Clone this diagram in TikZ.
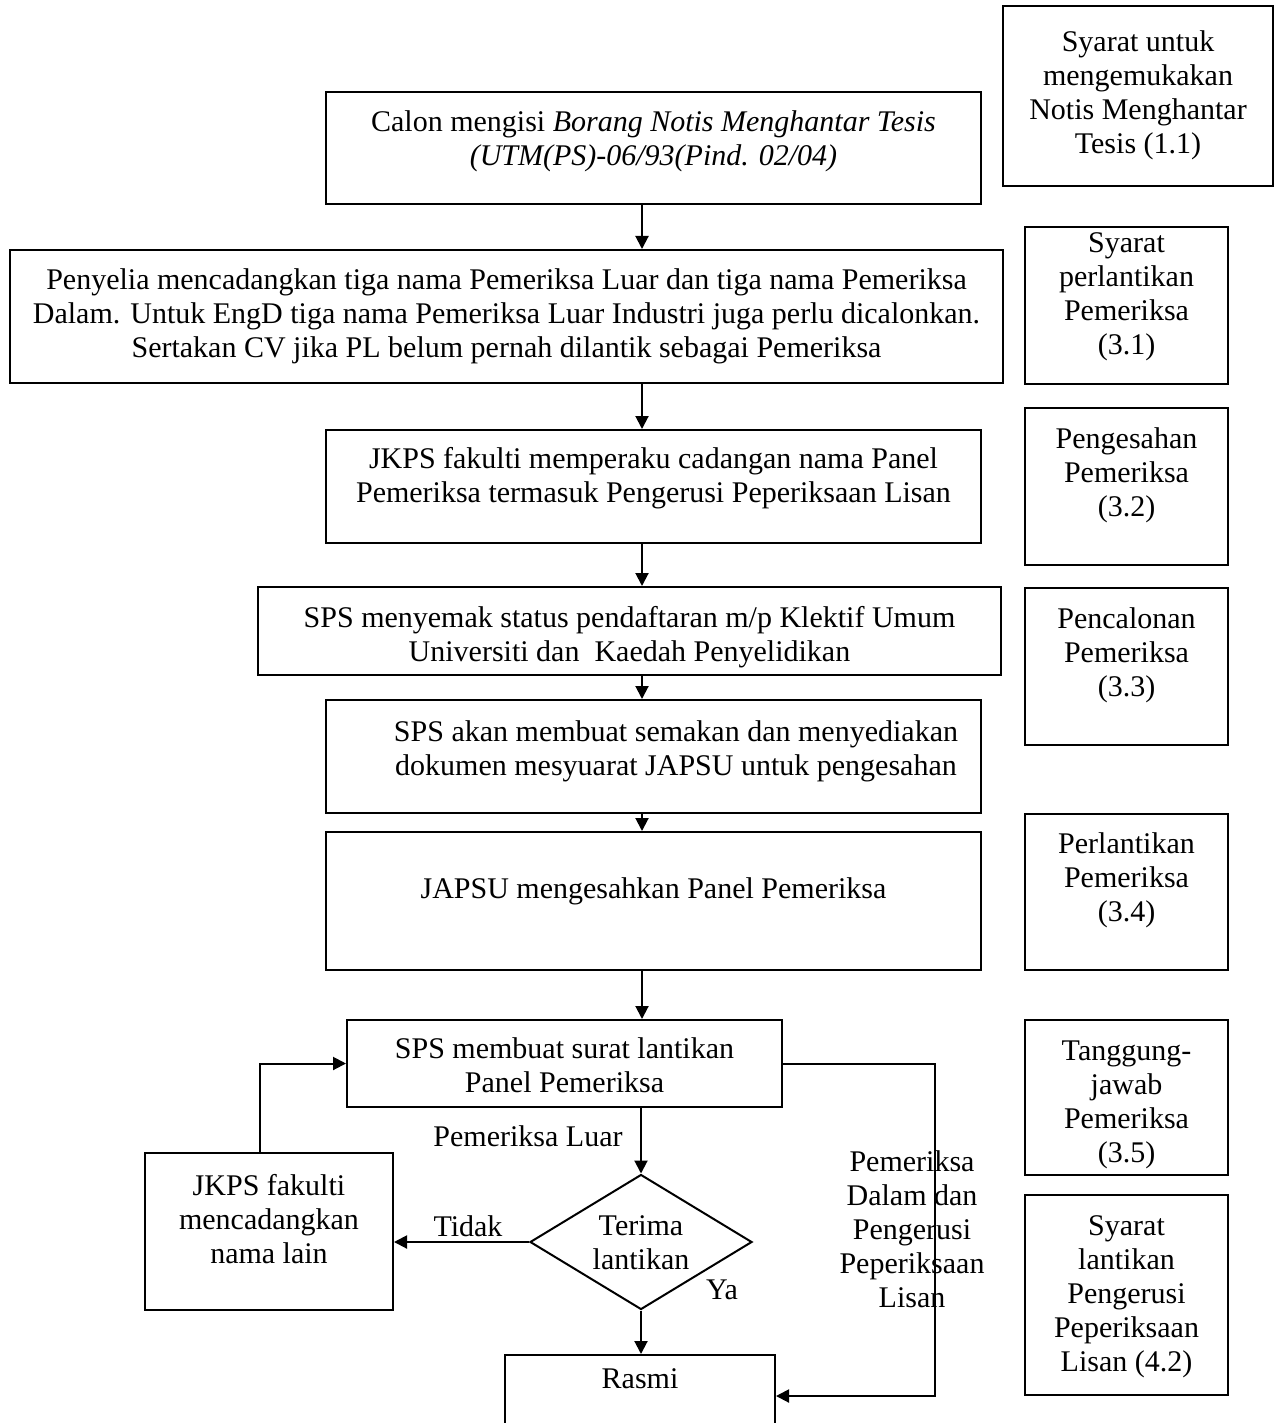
\documentclass[tikz,border=0pt]{standalone}
\usepackage{fontspec}
\setmainfont{Liberation Serif}
\usetikzlibrary{arrows.meta,shapes.geometric}
\begin{document}
\begin{tikzpicture}[x=0.5pt,y=-0.5pt,
  box/.style={draw,line width=1pt,rectangle,inner sep=0pt},
  txt/.style={align=center,inner sep=0pt,font=\fontsize{15}{17}\selectfont},
  arr/.style={line width=1pt,-{Triangle[length=6.5pt,width=6.5pt]}},
  ln/.style={line width=1pt}]
\clip (0,0) rectangle (1282,1423);
\fill[white] (0,0) rectangle (1282,1423);
% main column boxes
\node[box,minimum width=327.5pt,minimum height=56pt] (b1) at (653.5,148) {};
\node[txt,anchor=north] (t1) at (653.5,110) {Calon mengisi \textit{Borang Notis Menghantar Tesis}\\\textit{(UTM(PS)-06/93(Pind. 02/04)}};
\node[box,minimum width=496.5pt,minimum height=66.5pt] (b2) at (506.5,316.5) {};
\node[txt,anchor=north] (t2) at (506.5,268) {Penyelia mencadangkan tiga nama Pemeriksa Luar dan tiga nama Pemeriksa\\Dalam. Untuk EngD tiga nama Pemeriksa Luar Industri juga perlu dicalonkan.\\Sertakan CV jika PL belum pernah dilantik sebagai Pemeriksa};
\node[box,minimum width=327.5pt,minimum height=56.5pt] (b3) at (653.5,486.5) {};
\node[txt,anchor=north] (t3) at (653.5,447) {JKPS fakulti memperaku cadangan nama Panel\\Pemeriksa termasuk Pengerusi Peperiksaan Lisan};
\node[box,minimum width=371.5pt,minimum height=44pt] (b4) at (629.5,631) {};
\node[txt,anchor=north] (t4) at (629.5,606) {SPS menyemak status pendaftaran m/p Klektif Umum\\Universiti dan\ \ Kaedah Penyelidikan};
\node[box,minimum width=327.5pt,minimum height=56.5pt] (b5) at (653.5,756.5) {};
\node[txt,anchor=north] (t5) at (676,720) {SPS akan membuat semakan dan menyediakan\\dokumen mesyuarat JAPSU untuk pengesahan};
\node[box,minimum width=327.5pt,minimum height=69pt] (b6) at (653.5,901) {};
\node[txt,anchor=north] (t6) at (653.5,877) {JAPSU mengesahkan Panel Pemeriksa};
\node[box,minimum width=217.5pt,minimum height=43.5pt] (b7) at (564.5,1063.5) {};
\node[txt,anchor=north] (t7) at (564.5,1037) {SPS membuat surat lantikan\\Panel Pemeriksa};
\node[draw,line width=1pt,diamond,minimum width=111pt,minimum height=67.5pt,inner sep=0pt] (d) at (641,1242) {};
\node[txt] (td) at (641,1243) {Terima\\lantikan};
\node[box,minimum width=124pt,minimum height=78.5pt] (b8) at (269,1231.5) {};
\node[txt,anchor=north] (t8) at (269,1174) {JKPS fakulti\\mencadangkan\\nama lain};
\node[box,minimum width=135pt,minimum height=47.5pt] (b9) at (640,1402.5) {};
\node[txt,anchor=north] (t9) at (640,1368) {Rasmi};
% right column boxes
\node[box,minimum width=135pt,minimum height=90pt] (r1) at (1138,96) {};
\node[txt,anchor=north] (s1) at (1138,30) {Syarat untuk\\mengemukakan\\Notis Menghantar\\Tesis (1.1)};
\node[box,minimum width=101.5pt,minimum height=78.5pt] (r2) at (1126.5,305.5) {};
\node[txt,anchor=north] (s2) at (1126.5,232) {Syarat\\perlantikan\\Pemeriksa\\(3.1)};
\node[box,minimum width=101.5pt,minimum height=78.5pt] (r3) at (1126.5,486.5) {};
\node[txt,anchor=north] (s3) at (1126.5,427) {Pengesahan\\Pemeriksa\\(3.2)};
\node[box,minimum width=101.5pt,minimum height=78.5pt] (r4) at (1126.5,666.5) {};
\node[txt,anchor=north] (s4) at (1126.5,607) {Pencalonan\\Pemeriksa\\(3.3)};
\node[box,minimum width=101.5pt,minimum height=78pt] (r5) at (1126.5,892) {};
\node[txt,anchor=north] (s5) at (1126.5,832) {Perlantikan\\Pemeriksa\\(3.4)};
\node[box,minimum width=101.5pt,minimum height=77.5pt] (r6) at (1126.5,1097.5) {};
\node[txt,anchor=north] (s6) at (1126.5,1040) {Tanggung-\\jawab\\Pemeriksa\\(3.5)};
\node[box,minimum width=101.5pt,minimum height=100pt] (r7) at (1126.5,1295) {};
\node[txt,anchor=north] (s7) at (1126.5,1215) {Syarat\\lantikan\\Pengerusi\\Peperiksaan\\Lisan (4.2)};
% labels
\node[txt] (lluar) at (528,1136) {Pemeriksa Luar};
\node[txt] (ltidak) at (468,1226) {Tidak};
\node[txt] (lya) at (722,1290) {Ya};
\node[txt,anchor=north] (ldalam) at (912,1150) {Pemeriksa\\Dalam dan\\Pengerusi\\Peperiksaan\\Lisan};
% connectors
\coordinate (ax) at (642,0);
\coordinate (jx) at (260,0);
\coordinate (rc) at (935,1396);
\draw[arr] (b1.south -| ax) -- (b2.north -| ax);
\draw[arr] (b2.south -| ax) -- (b3.north -| ax);
\draw[arr] (b3.south -| ax) -- (b4.north -| ax);
\draw[arr] (b4.south -| ax) -- (b5.north -| ax);
\draw[arr] (b5.south -| ax) -- (b6.north -| ax);
\draw[arr] (b6.south -| ax) -- (b7.north -| ax);
\draw[arr] (b7.south -| d.north) -- (d.north);
\draw[arr] (d.south) -- (b9.north -| d.south);
\draw[arr] (d.west) -- (b8.east |- d.west);
\draw[arr] (jx |- b8.north) |- (b7.west);
\draw[arr] (b7.east) -| (rc) -- (rc -| b9.east);
\end{tikzpicture}
\end{document}
